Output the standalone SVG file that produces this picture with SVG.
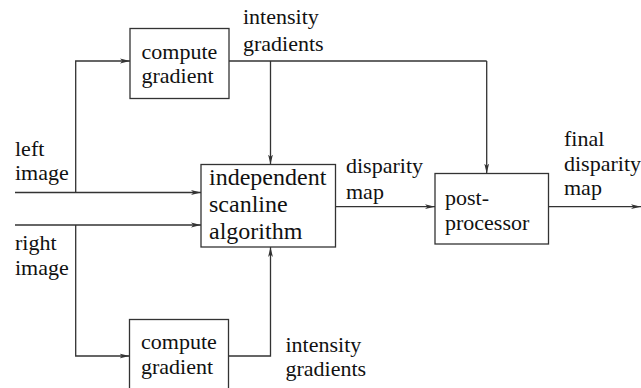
<svg xmlns="http://www.w3.org/2000/svg" width="641" height="388" viewBox="0 0 641 388">
<defs>
<marker id="ah" viewBox="0 0 10 6" refX="10" refY="3" markerWidth="10" markerHeight="6" markerUnits="userSpaceOnUse" orient="auto">
<path d="M0,0.6 L10,3 L0,5.4 L2.5,3 Z" fill="#333"/>
</marker>
</defs>
<rect width="641" height="388" fill="#fff"/>
<g id="connectors" fill="none" stroke="#333" stroke-width="1.3">
<path marker-end="url(#ah)" d="M15,192.5 H201"/>
<path marker-end="url(#ah)" d="M75.7,192.5 V61 H130"/>
<path marker-end="url(#ah)" d="M15,225 H201"/>
<path marker-end="url(#ah)" d="M75.7,225 V356 H129.5"/>
<path d="M229,61 H486.7"/>
<path marker-end="url(#ah)" d="M270.5,61 V164.5"/>
<path marker-end="url(#ah)" d="M486.7,61 V173.5"/>
<path marker-end="url(#ah)" d="M228.5,356 H270.5 V247"/>
<path marker-end="url(#ah)" d="M335.5,206.7 H435"/>
<path marker-end="url(#ah)" d="M548.5,206.7 H641"/>
</g>
<g font-family="Liberation Serif" font-size="22" fill="#111">
<g id="compute_top">
<rect x="130" y="28.5" width="99" height="70" fill="#fff" stroke="#333" stroke-width="1.3"/>
<text x="141.5" y="58.5">compute</text>
<text x="141.5" y="83">gradient</text>
</g>
<g id="compute_bottom">
<rect x="129.5" y="319.5" width="99" height="80" fill="#fff" stroke="#333" stroke-width="1.3"/>
<text x="141" y="349">compute</text>
<text x="141" y="373.5">gradient</text>
</g>
<g id="scanline">
<rect x="201" y="164.5" width="134.5" height="82.5" fill="#fff" stroke="#333" stroke-width="1.3"/>
<text x="209" y="185" font-size="24">independent</text>
<text x="209" y="211.5" font-size="24">scanline</text>
<text x="209" y="238.5" font-size="24">algorithm</text>
</g>
<g id="postprocessor">
<rect x="435" y="173.5" width="113.5" height="70.5" fill="#fff" stroke="#333" stroke-width="1.3"/>
<text x="445" y="204.5">post-</text>
<text x="445" y="229.5">processor</text>
</g>
<g id="labels">
<text x="243" y="24">intensity</text>
<text x="243" y="51">gradients</text>
<text x="15" y="155.5">left</text>
<text x="15" y="180">image</text>
<text x="15" y="250">right</text>
<text x="15" y="274.5">image</text>
<text x="346" y="173">disparity</text>
<text x="346" y="198.5">map</text>
<text x="564" y="146">final</text>
<text x="564" y="170.5">disparity</text>
<text x="564" y="195">map</text>
<text x="285.5" y="351.5">intensity</text>
<text x="285.5" y="375.5">gradients</text>
</g>
</g>
</svg>
